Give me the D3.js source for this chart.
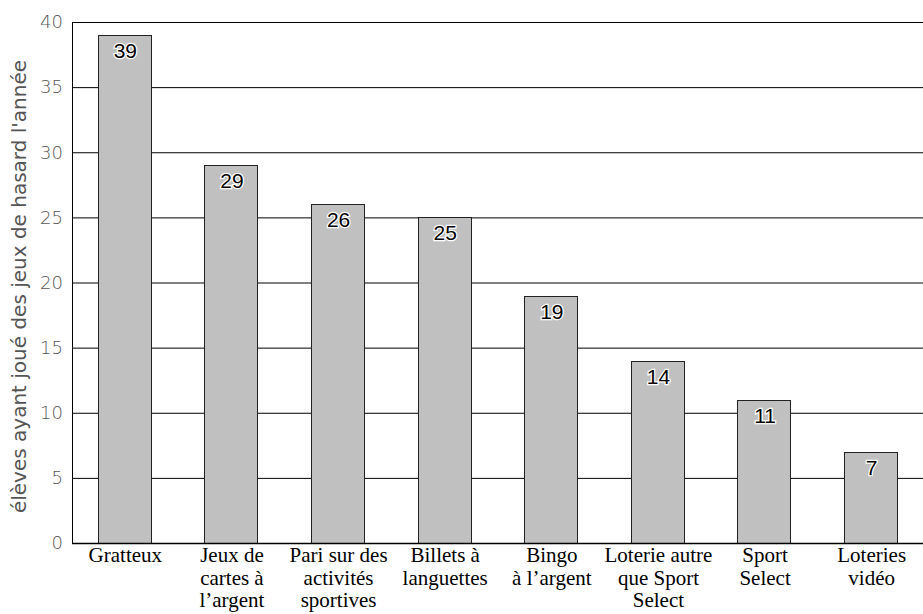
<!DOCTYPE html>
<html>
<head>
<meta charset="utf-8">
<script src="https://cdn.jsdelivr.net/npm/d3@7"></script>
<style>
  body { margin: 0; background: #fff; }
  svg { display: block; }
</style>
</head>
<body>
<svg width="923" height="614"></svg>
<script>
// categories (each line of the label is one entry)
var categories = ["Gratteux", "Jeux de cartes", "Pari sur des activités", "Billets à languettes",
  "Bingo à l'argent", "Loterie autre que Sport Select", "Sport Select", "Loteries vidéo"]
var labelLines = [
  ["Gratteux"],
  ["Jeux de", "cartes à", "l’argent"],
  ["Pari sur des", "activités", "sportives"],
  ["Billets à", "languettes"],
  ["Bingo", "à l’argent"],
  ["Loterie autre", "que  Sport", "Select"],
  ["Sport", "Select"],
  ["Loteries", "vidéo"]
]
var values = [39, 29, 26, 25, 19, 14, 11, 7]
var yTicks = [0, 5, 10, 15, 20, 25, 30, 35, 40]
var yTitle = "élèves ayant joué des jeux de hasard l'année"

var svg = d3.select("svg"),
  mLeft = 72, mTop = 22, mBottom = 543, mRight = 925

var x = d3.scaleBand().domain(categories).range([mLeft, mRight])
  .paddingInner(0.5).paddingOuter(0.25)
var y = d3.scaleLinear().domain([0, 40]).range([mBottom, mTop])

// gridlines
svg.append("g").selectAll("line")
  .data(yTicks.filter(function(d) { return d > 0 }))
  .enter().append("line")
  .attr("x1", mLeft).attr("x2", 923)
  .attr("y1", function(d) { return y(d) + 0.5 })
  .attr("y2", function(d) { return y(d) + 0.5 })
  .attr("stroke", "#000").attr("stroke-width", 1)

// bars
svg.append("g").selectAll("rect")
  .data(values)
  .enter().append("rect")
  .attr("x", function(d, i) { return Math.round(x(categories[i])) - 0.5 })
  .attr("y", function(d) { return Math.round(y(d)) + 0.5 })
  .attr("width", Math.round(x.bandwidth()))
  .attr("height", function(d) { return mBottom - Math.round(y(d)) })
  .attr("fill", "#c0c0c0")
  .attr("stroke", "#222").attr("stroke-width", 1)

// value labels
svg.append("g").selectAll("text")
  .data(values)
  .enter().append("text")
  .attr("x", function(d, i) { return x(categories[i]) + x.bandwidth() / 2 })
  .attr("y", function(d) { return y(d) + 23 })
  .attr("text-anchor", "middle")
  .attr("font-family", "Liberation Sans, Arial, sans-serif")
  .attr("font-size", "21px")
  .attr("fill", "#000")
  .attr("stroke", "#fff").attr("stroke-width", 2.5)
  .attr("paint-order", "stroke")
  .text(function(d) { return d })

// axes lines
svg.append("line").attr("x1", mLeft + 0.5).attr("x2", mLeft + 0.5)
  .attr("y1", mTop).attr("y2", mBottom + 1).attr("stroke", "#000")
svg.append("line").attr("x1", mLeft).attr("x2", 923)
  .attr("y1", mBottom + 0.5).attr("y2", mBottom + 0.5).attr("stroke", "#000").attr("stroke-width", 1.5)

// y tick labels
var yAxis = svg.append("g")
  .attr("transform", "translate(" + mLeft + ",0)")
  .call(d3.axisLeft(y).tickValues(yTicks).tickSize(0).tickPadding(9))
yAxis.select(".domain").remove()
yAxis.selectAll("text")
  .attr("font-family", "DejaVu Sans, sans-serif")
  .attr("font-weight", "200")
  .attr("font-size", "18px")
  .attr("fill", "#555")

// y title
svg.append("text")
  .attr("transform", "translate(26," + ((mTop + mBottom) / 2 + 4) + ") rotate(-90)")
  .attr("text-anchor", "middle")
  .attr("font-family", "DejaVu Sans, sans-serif")
  .attr("font-size", "20px")
  .attr("fill", "#555")
  .text(yTitle)

// x labels
var xl = svg.append("g").selectAll("text")
  .data(labelLines)
  .enter().append("text")
  .attr("text-anchor", "middle")
  .attr("font-family", "Liberation Serif, Times New Roman, serif")
  .attr("font-size", "21px")
  .attr("fill", "#000")
xl.each(function(lines, i) {
  var cx = x(categories[i]) + x.bandwidth() / 2
  d3.select(this).selectAll("tspan")
    .data(lines)
    .enter().append("tspan")
    .attr("x", cx)
    .attr("y", function(d, j) { return 562 + j * 22.5 })
    .text(function(d) { return d })
})
</script>
</body>
</html>
